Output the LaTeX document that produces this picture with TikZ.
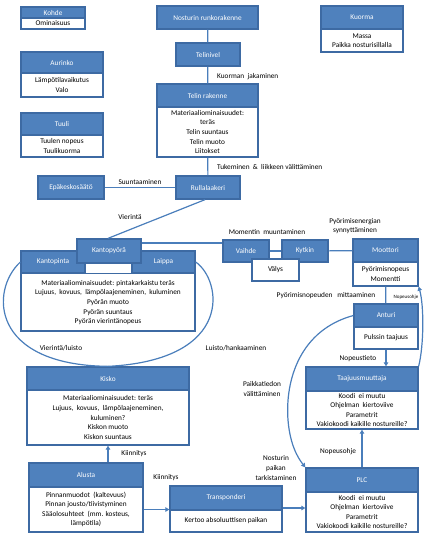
\documentclass[tikz,border=0pt]{standalone}
\usepackage{fontspec}
\setmainfont{Carlito}
\usetikzlibrary{arrows.meta}
\definecolor{hdrblue}{HTML}{4F81BD}
\definecolor{bord}{HTML}{3D6AA3}
\definecolor{linec}{HTML}{4A7EBB}
\tikzset{
  box/.style={rectangle, draw=bord, line width=1.3pt, inner sep=0pt, align=center, font=\fontsize{7.3}{9.6}\selectfont},
  hdr/.style={box, fill=hdrblue, text=white},
  bod/.style={box, fill=white, text=black},
  lbl/.style={inner sep=0pt, align=center, font=\fontsize{7.3}{9.7}\selectfont},
  conn/.style={draw=linec, line width=1.2pt},
  arr/.style={conn, -{Triangle[width=4.5pt,length=4pt]}}
}
\begin{document}
\begin{tikzpicture}[x=1pt,y=-1pt]
\useasboundingbox (0,0) rectangle (429,539);
% legend
\node[hdr, minimum width=64, minimum height=11] (kohde) at (53,12.5) {Kohde};
\node[bod, minimum width=64, minimum height=11] (kohdeB) at (53,23.5) {Ominaisuus};
\node[hdr, minimum width=82, minimum height=21] (aur) at (62,62.5) {Aurinko};
\node[bod, minimum width=82, minimum height=24] (aurB) at (62,85) {Lämpötilavaikutus\\Valo};
\node[hdr, minimum width=82, minimum height=22] (tuuli) at (62,124) {Tuuli};
\node[bod, minimum width=82, minimum height=22] (tuuliB) at (62,146) {Tuulen nopeus\\Tuulikuorma};
\node[hdr, minimum width=82, minimum height=23] (kuorma) at (362,17.5) {Kuorma};
\node[bod, minimum width=82, minimum height=23] (kuormaB) at (362,40.5) {Massa\\Paikka nosturisillalla};
% main chain
\node[hdr, minimum width=101, minimum height=23] (nost) at (207.5,17.5) {Nosturin runkorakenne};
\node[hdr, minimum width=64, minimum height=23] (telinivel) at (208,54.5) {Telinivel};
\node[hdr, minimum width=101, minimum height=23] (telinH) at (207.5,95.5) {Telin rakenne};
\node[bod, minimum width=101, minimum height=50] (telinB) at (207.5,132) {Materiaaliominaisuudet:\\teräs\\Telin suuntaus\\Telin muoto\\Liitokset};
\node[hdr, minimum width=64, minimum height=23] (rulla) at (208,187.5) {Rullalaakeri};
\node[hdr, minimum width=66, minimum height=23] (epak) at (71,187.5) {Epäkeskosäätö};
% wheel
\node[bod, minimum width=174, minimum height=80] (wheel) at (108,291) {};
\node[hdr, minimum width=64, minimum height=22] (kantopinta) at (53,262) {Kantopinta};
\node[hdr, minimum width=63, minimum height=22] (laippa) at (163.5,262) {Laippa};
\draw[draw=bord, line width=1.3pt] (kantopinta.south east) -- (laippa.south west);
\node[hdr, minimum width=64, minimum height=24] (kp) at (109,251) {Kantopyörä};
\node[lbl] (wheelT) at (108,302.5) {Materiaaliominaisuudet: pintakarkaistu teräs\\Lujuus,~ kovuus,~ lämpölaajeneminen,~ kuluminen\\Pyörän muoto\\Pyörän suuntaus\\Pyörän vierintänopeus};
% drive
\node[hdr, minimum width=46, minimum height=22] (vaihde) at (246,251) {Vaihde};
\node[hdr, minimum width=46, minimum height=22] (kytkin) at (305,251) {Kytkin};
\node[bod, minimum width=47, minimum height=22] (valys) at (275.5,270) {Välys};
\node[hdr, minimum width=65, minimum height=23] (mootH) at (385.5,250.5) {Moottori};
\node[bod, minimum width=65, minimum height=24] (mootB) at (385.5,274) {Pyörimisnopeus\\Momentti};
\node[hdr, minimum width=64, minimum height=23] (anturiH) at (386,315.5) {Anturi};
\node[bod, minimum width=64, minimum height=22] (anturiB) at (386,338) {Pulssin taajuus};
\node[hdr, minimum width=112, minimum height=24] (taajH) at (362,379) {Taajuusmuuttaja};
\node[bod, minimum width=112, minimum height=38] (taajB) at (362,410) {Koodi~ ei muutu\\Ohjelman~ kiertoviive\\Parametrit\\Vakiokoodi kaikille nostureille?};
\node[hdr, minimum width=112, minimum height=24] (plcH) at (362,480) {PLC};
\node[bod, minimum width=112, minimum height=40] (plcB) at (362,512) {Koodi~ ei muutu\\Ohjelman~ kiertoviive\\Parametrit\\Vakiokoodi kaikille nostureille?};
\node[hdr, minimum width=112, minimum height=24] (transpH) at (226,498) {Transponderi};
\node[bod, minimum width=112, minimum height=22] (transpB) at (226,521) {Kertoo absoluuttisen paikan};
\node[hdr, minimum width=114, minimum height=24] (alustaH) at (86,475) {Alusta};
\node[bod, minimum width=114, minimum height=45] (alustaB) at (86,509.5) {Pinnanmuodot~ (kaltevuus)\\Pinnan jousto/tiivistyminen\\Sääolosuhteet~ (mm. kosteus,\\lämpötila)};
\node[hdr, minimum width=162, minimum height=23] (kiskoH) at (108,378.5) {Kisko};
\node[bod, minimum width=162, minimum height=55] (kiskoB) at (108,417.5) {Materiaaliominaisuudet: teräs\\Lujuus,~ kovuus,~ lämpölaajeneminen,\\kuluminen?\\Kiskon muoto\\Kiskon suuntaus};
% connectors
\draw[conn] (nost) -- (telinivel);
\draw[conn] (telinivel) -- (telinH);
\draw[conn] (telinB) -- (rulla);
\draw[conn] (epak) -- (rulla);
\draw[conn] ([xshift=-3pt]rulla.south) -- ([xshift=-1pt]kp.north);
\draw[conn] ([yshift=8pt]kp.east) -- ([yshift=8pt]vaihde.west);
\draw[conn] (vaihde) -- (kytkin);
\draw[conn] (kytkin) -- (mootH);
\draw[conn] (mootB) -- (anturiH);
\draw[arr] (anturiB.south) -- (anturiB.south |- taajH.north);
\draw[arr] (plcH.north) -- (taajB.south);
\draw[arr] ([yshift=-10pt]transpH.east) -- ([yshift=-10pt]transpH.east -| plcB.west);
\draw[arr] (alustaB.east) -- (alustaB.east -| transpH.west);
\draw[arr] ([xshift=22pt]alustaH.north) -- ([xshift=22pt]alustaH.north |- kiskoB.south);
\draw[conn] (kantopinta.west) .. controls (-10,290) and (-10,365) .. (kiskoH.north);
\draw[conn] (laippa.east) .. controls (222,280) and (235,360) .. (kiskoH.north);
\draw[arr] (anturiH.west) .. controls (300,330) and (285,380) .. (288,420) .. controls (290,445) and (298,458) .. (plcH.north west);
\draw[arr] (taajH.north east) .. controls (424,345) and (424,305) .. (mootB.south east);
% labels
\node[lbl, anchor=west] (l1) at (217,77) {Kuorman~ jakaminen};
\node[lbl, anchor=west] (l2) at (217,167) {Tukeminen~ \&~ liikkeen välittäminen};
\node[lbl] (l3) at (140,182) {Suuntaaminen};
\node[lbl] (l4) at (130,217) {Vierintä};
\node[lbl] (l5) at (267,232) {Momentin~ muuntaminen};
\node[lbl] (l6) at (355,226) {Pyörimisenergian\\synnyttäminen};
\node[lbl] (l7) at (326,296) {Pyörimisnopeuden~~ mittaaminen};
\node[lbl, font=\fontsize{5}{6}\selectfont] (l8) at (406,297) {Nopeusohje};
\node[lbl] (l9) at (358,359) {Nopeustieto};
\node[lbl] (l10) at (338,452) {Nopeusohje};
\node[lbl] (l11) at (262,389) {Paikkatiedon\\välittäminen};
\node[lbl] (l12) at (276,468) {Nosturin\\paikan\\tarkistaminen};
\node[lbl] (l13) at (134,454) {Kiinnitys};
\node[lbl] (l14) at (166,478) {Kiinnitys};
\node[lbl] (l15) at (61,348) {Vierintä/luisto};
\node[lbl] (l16) at (236,348) {Luisto/hankaaminen};
\end{tikzpicture}
\end{document}
